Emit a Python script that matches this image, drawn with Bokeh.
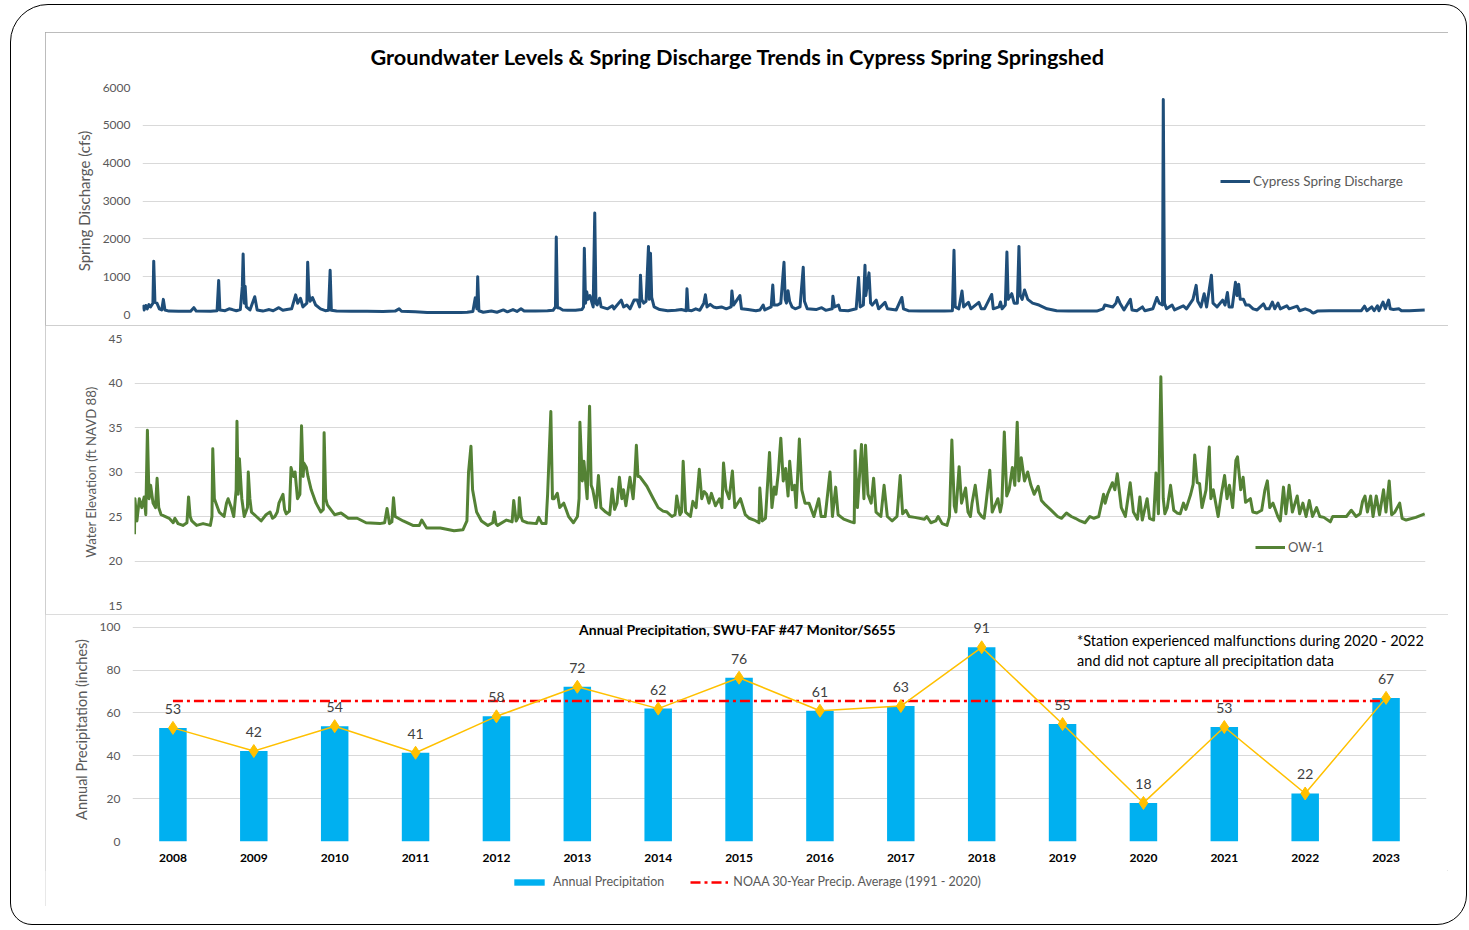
from bokeh.plotting import figure
from bokeh.models import Range1d, FixedTicker, Legend, LegendItem, Label, Title
from bokeh.layouts import column
from bokeh.embed import file_html
from bokeh.resources import INLINE
from bokeh.core.properties import value

# ---------------- data ----------------
TITLE = "Groundwater Levels & Spring Discharge Trends in Cypress Spring Springshed"

# Cypress Spring discharge (decimal year, cfs)
dis_year = [2008.00, 2008.02, 2008.04, 2008.06, 2008.08, 2008.10, 2008.13, 2008.14, 2008.155, 2008.18,
            2008.21, 2008.24, 2008.26, 2008.28, 2008.33, 2008.45, 2008.60, 2008.64, 2008.67, 2008.85,
            2008.93, 2008.95, 2008.965, 2009.03, 2009.08, 2009.12, 2009.17, 2009.22, 2009.245, 2009.255,
            2009.27, 2009.28, 2009.295, 2009.34, 2009.40, 2009.43, 2009.50, 2009.58, 2009.63, 2009.70,
            2009.75, 2009.80, 2009.86, 2009.91, 2009.935, 2009.97, 2010.00, 2010.05, 2010.06, 2010.075,
            2010.09, 2010.12, 2010.16, 2010.22, 2010.28, 2010.32, 2010.34, 2010.355, 2010.42, 2010.60,
            2010.80, 2011.00, 2011.15, 2011.20, 2011.23, 2011.40, 2011.55, 2011.70, 2011.85, 2011.97,
            2012.05, 2012.12, 2012.15, 2012.17, 2012.18, 2012.195, 2012.25, 2012.35, 2012.42, 2012.50,
            2012.55, 2012.62, 2012.67, 2012.72, 2012.76, 2012.90, 2013.05, 2013.12, 2013.15, 2013.16,
            2013.175, 2013.20, 2013.24, 2013.30, 2013.40, 2013.48, 2013.50, 2013.51, 2013.525, 2013.54,
            2013.555, 2013.58, 2013.62, 2013.64, 2013.655, 2013.67, 2013.70, 2013.72, 2013.80, 2013.86,
            2013.88, 2013.97, 2014.00, 2014.04, 2014.08, 2014.13, 2014.17, 2014.20, 2014.21, 2014.225,
            2014.25, 2014.28, 2014.31, 2014.32, 2014.335, 2014.35, 2014.38, 2014.45, 2014.55, 2014.65,
            2014.72, 2014.78, 2014.79, 2014.805, 2014.85, 2014.90, 2014.95, 2015.00, 2015.02, 2015.04,
            2015.08, 2015.12, 2015.16, 2015.22, 2015.28, 2015.34, 2015.35, 2015.37, 2015.45, 2015.47,
            2015.55, 2015.65, 2015.70, 2015.74, 2015.76, 2015.84, 2015.86, 2015.875, 2015.92, 2015.96,
            2016.00, 2016.015, 2016.03, 2016.05, 2016.07, 2016.10, 2016.14, 2016.20, 2016.24, 2016.255,
            2016.29, 2016.40, 2016.47, 2016.52, 2016.60, 2016.61, 2016.63, 2016.68, 2016.70, 2016.80,
            2016.90, 2016.93, 2016.95, 2016.99, 2017.01, 2017.02, 2017.06, 2017.08, 2017.10, 2017.15,
            2017.18, 2017.26, 2017.29, 2017.40, 2017.47, 2017.49, 2017.55, 2017.70, 2017.85, 2018.00,
            2018.10, 2018.12, 2018.135, 2018.18, 2018.22, 2018.24, 2018.30, 2018.33, 2018.43, 2018.46,
            2018.50, 2018.59, 2018.61, 2018.68, 2018.70, 2018.72, 2018.76, 2018.78, 2018.795, 2018.84,
            2018.87, 2018.91, 2018.93, 2018.945, 2018.97, 2019.00, 2019.04, 2019.10, 2019.18, 2019.28,
            2019.40, 2019.55, 2019.70, 2019.90, 2019.98, 2020.00, 2020.10, 2020.14, 2020.16, 2020.19,
            2020.24, 2020.32, 2020.34, 2020.40, 2020.47, 2020.50, 2020.60, 2020.65, 2020.68, 2020.72,
            2020.73, 2020.745, 2020.77, 2020.84, 2020.87, 2020.98, 2021.02, 2021.10, 2021.14, 2021.16,
            2021.20, 2021.24, 2021.27, 2021.33, 2021.35, 2021.40, 2021.47, 2021.50, 2021.53, 2021.55,
            2021.59, 2021.63, 2021.65, 2021.67, 2021.69, 2021.73, 2021.76, 2021.80, 2021.85, 2021.90,
            2021.98, 2022.01, 2022.05, 2022.09, 2022.12, 2022.16, 2022.19, 2022.27, 2022.30, 2022.40,
            2022.43, 2022.50, 2022.56, 2022.60, 2022.65, 2022.80, 2023.00, 2023.20, 2023.24, 2023.27,
            2023.33, 2023.36, 2023.40, 2023.42, 2023.47, 2023.50, 2023.54, 2023.56, 2023.60, 2023.67,
            2023.70, 2023.80, 2023.99]
dis_cfs = [250, 120, 240, 150, 260, 200, 300, 1410, 320, 300,
           150, 120, 400, 120, 90, 85, 85, 180, 90, 85,
           100, 900, 120, 100, 150, 130, 100, 130, 750, 1600,
           300, 750, 200, 120, 470, 120, 90, 130, 100, 180,
           110, 130, 150, 520, 300, 430, 200, 300, 1380, 560,
           350, 450, 250, 150, 100, 110, 1170, 110, 90, 85,
           85, 80, 90, 150, 85, 70, 55, 50, 55, 50,
           60, 80, 440, 150, 1000, 100, 60, 90, 60, 120,
           70, 130, 80, 150, 90, 90, 100, 110, 200, 2050,
           180, 170, 120, 110, 110, 130, 200, 1750, 300, 600,
           400, 500, 200, 2680, 300, 250, 430, 200, 150, 230,
           150, 380, 200, 250, 150, 380, 380, 200, 1040, 400,
           300, 350, 1800, 400, 1620, 450, 200, 130, 100, 110,
           130, 100, 680, 110, 100, 150, 110, 300, 520, 200,
           270, 200, 180, 200, 150, 200, 620, 250, 500, 150,
           130, 100, 120, 250, 120, 200, 780, 250, 250, 300,
           1380, 400, 300, 630, 350, 200, 150, 200, 1250, 350,
           150, 130, 180, 110, 150, 480, 200, 250, 110, 100,
           150, 980, 200, 250, 1300, 500, 1100, 300, 250, 380,
           150, 320, 150, 120, 450, 150, 100, 90, 90, 90,
           100, 1700, 200, 150, 620, 200, 320, 150, 320, 150,
           150, 530, 150, 200, 330, 150, 250, 1650, 400, 550,
           300, 300, 1800, 500, 400, 650, 400, 300, 250, 150,
           100, 95, 90, 90, 150, 250, 200, 300, 450, 300,
           120, 400, 120, 100, 200, 100, 150, 450, 300, 250,
           5680, 300, 150, 250, 120, 230, 150, 400, 770, 350,
           200, 550, 200, 1040, 300, 200, 380, 250, 580, 200,
           200, 850, 500, 800, 400, 400, 250, 250, 150, 120,
           280, 150, 150, 330, 150, 300, 150, 230, 150, 220,
           100, 150, 100, 30, 90, 100, 100, 100, 220, 100,
           200, 100, 230, 100, 330, 150, 380, 150, 130, 150,
           100, 100, 120]

# OW-1 water elevation (decimal year, ft NAVD 88)
ow_year = [2008.00, 2008.005, 2008.03, 2008.06, 2008.09, 2008.12, 2008.14, 2008.16, 2008.18, 2008.20,
           2008.23, 2008.26, 2008.28, 2008.30, 2008.33, 2008.43, 2008.48, 2008.50, 2008.54, 2008.60,
           2008.65, 2008.67, 2008.69, 2008.71, 2008.77, 2008.85, 2008.94, 2008.96, 2008.97, 2008.99,
           2009.01, 2009.05, 2009.11, 2009.14, 2009.16, 2009.20, 2009.23, 2009.26, 2009.27, 2009.285,
           2009.30, 2009.33, 2009.36, 2009.40, 2009.41, 2009.43, 2009.45, 2009.51, 2009.57, 2009.63,
           2009.68, 2009.71, 2009.74, 2009.77, 2009.79, 2009.84, 2009.86, 2009.88, 2009.92, 2009.94,
           2009.97, 2009.99, 2010.02, 2010.05, 2010.07, 2010.09, 2010.10, 2010.13, 2010.15, 2010.19,
           2010.25, 2010.31, 2010.34, 2010.35, 2010.37, 2010.39, 2010.48, 2010.56, 2010.65, 2010.76,
           2010.87, 2011.04, 2011.10, 2011.13, 2011.16, 2011.19, 2011.21, 2011.23, 2011.33, 2011.45,
           2011.53, 2011.56, 2011.62, 2011.79, 2011.96, 2012.07, 2012.12, 2012.14, 2012.17, 2012.19,
           2012.21, 2012.24, 2012.30, 2012.38, 2012.44, 2012.46, 2012.48, 2012.50, 2012.61, 2012.68,
           2012.70, 2012.73, 2012.76, 2012.77, 2012.79, 2012.81, 2012.87, 2012.98, 2013.01, 2013.05,
           2013.10, 2013.12, 2013.16, 2013.18, 2013.20, 2013.24, 2013.27, 2013.32, 2013.38, 2013.44,
           2013.49, 2013.51, 2013.52, 2013.55, 2013.57, 2013.60, 2013.61, 2013.64, 2013.66, 2013.68,
           2013.72, 2013.75, 2013.78, 2013.84, 2013.89, 2013.92, 2013.95, 2013.98, 2014.01, 2014.04,
           2014.06, 2014.09, 2014.14, 2014.18, 2014.20, 2014.22, 2014.24, 2014.26, 2014.35, 2014.43,
           2014.49, 2014.55, 2014.60, 2014.66, 2014.70, 2014.72, 2014.76, 2014.78, 2014.80, 2014.83,
           2014.89, 2014.92, 2014.96, 2015.00, 2015.03, 2015.06, 2015.09, 2015.12, 2015.15, 2015.20,
           2015.25, 2015.28, 2015.30, 2015.33, 2015.37, 2015.41, 2015.44, 2015.51, 2015.57, 2015.62,
           2015.68, 2015.74, 2015.75, 2015.78, 2015.82, 2015.87, 2015.90, 2015.93, 2015.95, 2015.98,
           2016.01, 2016.04, 2016.07, 2016.10, 2016.12, 2016.15, 2016.18, 2016.20, 2016.24, 2016.27,
           2016.31, 2016.36, 2016.42, 2016.48, 2016.51, 2016.56, 2016.62, 2016.65, 2016.69, 2016.72,
           2016.79, 2016.88, 2016.92, 2016.93, 2016.96, 2017.01, 2017.04, 2017.06, 2017.09, 2017.13,
           2017.16, 2017.19, 2017.25, 2017.29, 2017.33, 2017.39, 2017.45, 2017.49, 2017.52, 2017.56,
           2017.60, 2017.67, 2017.79, 2017.82, 2017.87, 2017.93, 2017.96, 2018.01, 2018.07, 2018.10,
           2018.13, 2018.16, 2018.18, 2018.22, 2018.25, 2018.30, 2018.33, 2018.36, 2018.38, 2018.42,
           2018.46, 2018.50, 2018.53, 2018.55, 2018.60, 2018.63, 2018.70, 2018.73, 2018.75, 2018.78,
           2018.81, 2018.84, 2018.88, 2018.91, 2018.94, 2018.96, 2018.99, 2019.03, 2019.07, 2019.11,
           2019.15, 2019.20, 2019.24, 2019.29, 2019.35, 2019.44, 2019.49, 2019.55, 2019.61, 2019.66,
           2019.72, 2019.78, 2019.84, 2019.89, 2019.95, 2020.01, 2020.03, 2020.06, 2020.12, 2020.15,
           2020.18, 2020.21, 2020.23, 2020.28, 2020.34, 2020.38, 2020.43, 2020.46, 2020.49, 2020.55,
           2020.58, 2020.63, 2020.66, 2020.69, 2020.72, 2020.75, 2020.77, 2020.80, 2020.84, 2020.88,
           2020.92, 2020.96, 2021.00, 2021.03, 2021.09, 2021.12, 2021.14, 2021.17, 2021.20, 2021.23,
           2021.28, 2021.32, 2021.34, 2021.37, 2021.43, 2021.47, 2021.51, 2021.54, 2021.57, 2021.61,
           2021.65, 2021.67, 2021.71, 2021.74, 2021.77, 2021.83, 2021.86, 2021.91, 2021.97, 2022.01,
           2022.04, 2022.07, 2022.11, 2022.17, 2022.20, 2022.24, 2022.27, 2022.31, 2022.35, 2022.41,
           2022.44, 2022.48, 2022.52, 2022.56, 2022.60, 2022.65, 2022.69, 2022.74, 2022.82, 2022.85,
           2022.91, 2023.02, 2023.08, 2023.14, 2023.19, 2023.22, 2023.25, 2023.28, 2023.32, 2023.35,
           2023.39, 2023.43, 2023.48, 2023.51, 2023.55, 2023.58, 2023.62, 2023.68, 2023.71, 2023.76,
           2023.88, 2023.99]
ow_ft = [23.0, 27.0, 24.5, 27.0, 26.0, 27.2, 25.2, 34.7, 27.0, 28.5,
         26.5, 26.0, 29.3, 26.0, 25.2, 24.8, 24.3, 24.8, 24.2, 24.0,
         24.3, 27.2, 25.0, 24.5, 24.0, 24.2, 24.0, 25.0, 32.6, 27.0,
         26.5, 25.5, 25.0, 26.5, 27.0, 26.0, 25.0, 28.0, 35.7, 27.5,
         31.5, 27.0, 25.0, 26.0, 30.0, 27.0, 25.5, 25.0, 24.5, 25.2,
         25.5, 24.8, 25.0, 25.5, 26.5, 27.5, 25.8, 25.3, 25.6, 30.5,
         29.5, 30.0, 27.0, 27.5, 35.2, 29.5, 31.0, 30.5, 29.5, 28.0,
         26.5, 25.5, 25.8, 34.4, 27.0, 26.3, 25.2, 25.4, 24.8, 24.8,
         24.3, 24.2, 24.3, 25.9, 24.2, 24.4, 27.1, 25.0, 24.5, 24.0,
         24.0, 24.6, 23.7, 23.7, 23.4, 23.5, 24.5, 30.0, 32.9, 28.0,
         27.0, 25.5, 24.5, 24.0, 24.3, 25.5, 24.2, 24.0, 24.6, 24.4,
         26.8, 24.5, 25.0, 27.1, 25.0, 24.5, 24.3, 24.2, 24.9, 24.2,
         24.2, 27.5, 36.8, 27.0, 27.0, 27.6, 26.0, 26.5, 25.0, 24.3,
         25.0, 27.0, 35.6, 29.0, 31.2, 28.0, 27.0, 37.4, 28.5, 28.0,
         26.0, 29.6, 26.0, 25.5, 25.2, 28.1, 25.8, 26.5, 29.4, 27.0,
         28.0, 26.2, 29.4, 27.0, 29.4, 33.0, 29.5, 29.5, 28.4, 27.0,
         26.0, 25.6, 25.5, 25.0, 25.2, 27.3, 25.2, 25.5, 31.2, 25.5,
         25.0, 26.7, 26.0, 30.3, 27.0, 27.8, 27.5, 26.5, 27.6, 26.2,
         27.0, 26.0, 31.0, 28.0, 27.0, 30.1, 26.0, 27.0, 25.2, 24.8,
         24.6, 24.3, 28.2, 24.5, 24.8, 32.2, 26.0, 28.3, 27.5, 30.0,
         33.8, 29.0, 30.4, 27.3, 31.2, 28.0, 28.5, 26.0, 33.7, 28.0,
         26.5, 26.5, 25.0, 27.0, 25.0, 25.0, 30.0, 25.0, 28.3, 25.2,
         24.7, 24.4, 24.3, 32.4, 26.0, 33.1, 27.0, 33.0, 27.5, 26.5,
         29.3, 25.5, 25.0, 28.5, 25.0, 24.5, 25.0, 29.6, 25.3, 25.7,
         25.0, 24.9, 24.7, 25.0, 24.3, 24.5, 25.0, 24.2, 24.0, 25.0,
         33.6, 26.2, 25.5, 30.6, 26.5, 28.2, 25.5, 25.0, 26.5, 28.5,
         25.5, 25.0, 24.8, 26.2, 30.2, 25.5, 27.0, 25.5, 26.5, 34.5,
         27.3, 28.0, 30.5, 28.5, 35.6, 29.0, 31.6, 29.0, 30.0, 28.5,
         27.5, 28.4, 26.8, 26.3, 25.8, 25.0, 24.8, 25.4, 25.0, 24.8,
         24.5, 24.3, 25.0, 24.8, 25.0, 27.5, 26.5, 27.5, 28.8, 28.0,
         29.8, 27.5, 26.0, 25.0, 28.8, 25.5, 24.7, 27.2, 24.6, 27.0,
         24.8, 24.6, 29.9, 25.3, 40.7, 27.0, 25.3, 26.0, 28.5, 25.7,
         25.4, 25.3, 26.5, 25.8, 27.5, 28.6, 31.9, 28.8, 28.7, 26.0,
         28.0, 32.8, 27.0, 28.0, 25.0, 27.5, 29.6, 27.0, 28.5, 26.0,
         31.3, 31.7, 28.0, 29.4, 26.6, 27.0, 25.5, 25.4, 25.7, 28.0,
         29.0, 26.0, 26.5, 25.0, 24.5, 28.3, 25.3, 28.5, 25.5, 27.3,
         25.3, 26.5, 25.0, 26.8, 25.0, 26.0, 25.0, 24.9, 24.4, 25.0,
         25.0, 25.0, 25.7, 25.0, 25.3, 26.7, 27.3, 25.5, 27.3, 25.0,
         27.3, 25.2, 28.0, 25.5, 29.0, 25.2, 25.5, 26.5, 24.8, 24.6,
         24.9, 25.3]

# annual precipitation
years = [2008, 2009, 2010, 2011, 2012, 2013, 2014, 2015, 2016, 2017, 2018, 2019, 2020, 2021, 2022, 2023]
precip = [53.0, 42.2, 53.8, 41.4, 58.4, 72.2, 62.0, 76.4, 61.0, 63.2, 90.6, 54.8, 18.0, 53.4, 22.4, 67.0]
noaa_avg = 65.5

dis_ticks = [0, 1000, 2000, 3000, 4000, 5000, 6000]
ow_ticks = [15, 20, 25, 30, 35, 40, 45]
pr_ticks = [0, 20, 40, 60, 80, 100]

# ---------------- styling ----------------
FONT = "Lato"
GRAY = "#595959"
GRID = "#d9d9d9"
BAR = "#00b0f0"
AVG = "#ff0000"
AVG_DASH = "10 4 3 4"


def style_y(p, label, ticks, size, standoff):
    ax = p.yaxis[0]
    ax.ticker = FixedTicker(ticks=ticks)
    ax.axis_label = label
    ax.axis_label_text_font = FONT
    ax.axis_label_text_font_size = size
    ax.axis_label_text_font_style = "normal"
    ax.axis_label_text_color = GRAY
    ax.axis_label_standoff = standoff
    ax.major_label_text_font = FONT
    ax.major_label_text_font_size = "12px"
    ax.major_label_text_color = GRAY
    ax.major_label_standoff = 12
    ax.major_tick_in = 0
    ax.major_tick_out = 0
    ax.minor_tick_in = 0
    ax.minor_tick_out = 0
    ax.axis_line_color = None
    ax.major_tick_line_color = None
    ax.minor_tick_line_color = None
    p.ygrid.grid_line_color = GRID
    p.ygrid.grid_line_width = 1
    p.xgrid.grid_line_color = None


def make_legend(items, loc, glyph_w, size="13px"):
    lg = Legend(items=items, location=loc, orientation="horizontal")
    lg.padding = 0
    lg.margin = 0
    lg.spacing = 20
    lg.glyph_width = glyph_w
    lg.glyph_height = 10
    lg.label_height = 14
    lg.label_standoff = 3
    lg.label_text_font = FONT
    lg.label_text_font_size = size
    lg.label_text_color = GRAY
    lg.border_line_color = None
    lg.background_fill_alpha = 0
    return lg


common = dict(output_backend="svg", toolbar_location=None, width=1403,
              outline_line_color=None, background_fill_color="white",
              border_fill_color="white")


def no_align(p):
    if "frame_align" in p.properties():
        p.frame_align = False


# ---------- top: discharge ----------
p1 = figure(height=293, x_range=Range1d(2008, 2024), y_range=Range1d(0, 6000),
            min_border_left=97, min_border_right=23, min_border_top=55,
            min_border_bottom=11, title=TITLE,
            styles={"outline": "1px solid #a6a6a6", "outline-offset": "-1px"}, **common)
no_align(p1)
p1.title.align = "left"
p1.title.offset = 228
p1.title.text_font = FONT
p1.title.text_font_size = "21.7px"
p1.title.text_font_style = "bold"
p1.title.text_color = "black"
p1.title.standoff = 19
# thin spacer panel between the main title and the plot frame
p1.add_layout(Title(text=" ", text_font_size="5px", standoff=0), "above")
p1.xaxis.visible = False
style_y(p1, "Spring Discharge (cfs)", dis_ticks, "15px", 7)
r_dis = p1.line(dis_year, dis_cfs, line_color="#1f4e79", line_width=3, line_join="round")
p1.add_layout(make_legend([LegendItem(label="Cypress Spring Discharge", renderers=[r_dis])],
                          (1078, 125), 30, "13.5px"))

# ---------- middle: OW-1 ----------
p2 = figure(height=289, x_range=Range1d(2008, 2024), y_range=Range1d(15, 45),
            min_border_left=89, min_border_right=23, min_border_top=13,
            min_border_bottom=9,
            styles={"outline": "1px solid #bfbfbf", "outline-offset": "-1px"}, **common)
no_align(p2)
p2.xaxis.visible = False
style_y(p2, "Water Elevation (ft NAVD 88)", ow_ticks, "13.2px", 7)
r_ow = p2.line(ow_year, ow_ft, line_color="#548235", line_width=3, line_join="round")
p2.add_layout(make_legend([LegendItem(label="OW-1", renderers=[r_ow])], (1121, 50), 30))

# ---------- bottom: precipitation ----------
p3 = figure(height=256, x_range=Range1d(years[0] - 0.5, years[-1] + 0.5), y_range=Range1d(0, 104.5),
            min_border_left=87, min_border_right=22, min_border_top=3,
            min_border_bottom=29, **common)
no_align(p3)
style_y(p3, "Annual Precipitation (inches)", pr_ticks, "14.5px", 7)
xa = p3.xaxis[0]
xa.ticker = FixedTicker(ticks=years)
xa.axis_line_color = None
xa.major_tick_line_color = None
xa.minor_tick_line_color = None
xa.major_tick_in = 0
xa.major_tick_out = 0
xa.major_label_standoff = 12
xa.major_label_text_font = FONT
xa.major_label_text_font_size = "12px"
xa.major_label_text_font_style = "bold"
xa.major_label_text_color = "black"

p3.vbar(x=years, top=precip, width=0.34, fill_color=BAR, line_color=None)
p3.line(x=[years[0], years[-1]], y=[noaa_avg, noaa_avg], line_color=AVG,
        line_width=2.5, line_dash=AVG_DASH)
p3.line(years, precip, line_color="#ffc000", line_width=1.5)
p3.scatter(years, precip, marker="diamond", size=13, fill_color="#ffc000", line_color="#ffc000")
p3.text(x=years, y=precip, text=[str(round(v)) for v in precip], y_offset=-19,
        text_align="center", text_baseline="middle", text_font=value(FONT),
        text_font_size="14px", text_color="#404040")

p3.add_layout(Label(x=2014.98, y=99, text="Annual Precipitation, SWU-FAF #47 Monitor/S655",
                    text_align="center", text_baseline="middle", text_font=FONT,
                    text_font_size="14px", text_font_style="bold", text_color="black"))
p3.add_layout(Label(x=2019.18, y=93.9, text="*Station experienced malfunctions during 2020 - 2022",
                    text_align="left", text_baseline="middle", text_font=FONT,
                    text_font_size="14.5px", text_color="black"))
p3.add_layout(Label(x=2019.18, y=84.6, text="and did not capture all precipitation data",
                    text_align="left", text_baseline="middle", text_font=FONT,
                    text_font_size="14.5px", text_color="black"))

# legend strip under the precipitation chart; the same series are drawn here outside the
# visible range so that the legend shows their styled glyphs
pl = figure(height=36, x_range=Range1d(0, 1), y_range=Range1d(0, 1),
            min_border_left=0, min_border_right=0, min_border_top=0, min_border_bottom=0,
            x_axis_type=None, y_axis_type=None, **common)
no_align(pl)
pl.xgrid.visible = False
pl.ygrid.visible = False
g_bar = pl.vbar(x=years, top=precip, width=0.34, fill_color=BAR, line_color=None)
g_avg = pl.line(x=[years[0], years[-1]], y=[noaa_avg, noaa_avg], line_color=AVG,
                line_width=2.5, line_dash=AVG_DASH)
lg3 = make_legend([LegendItem(label="Annual Precipitation", renderers=[g_bar]),
                   LegendItem(label="NOAA 30-Year Precip. Average (1991 - 2020)", renderers=[g_avg])],
                  (465, 17), 38, "12.5px")
lg3.glyph_height = 8
lg3.spacing = 26
lg3.label_standoff = 5
pl.add_layout(lg3)

bottom = column(p3, pl, spacing=0,
                styles={"outline": "1px solid #d0d0d0", "outline-offset": "-1px"})

inner = column(p1, p2, bottom, margin=(27, 0, 0, 34), spacing=0)
outer = column(inner, width=1457, height=921, margin=(4, 0, 0, 10),
               styles={"border": "1px solid #000", "border-radius": "38px 22px 30px 22px"})

open("out.html", "w").write(file_html(outer, INLINE))
